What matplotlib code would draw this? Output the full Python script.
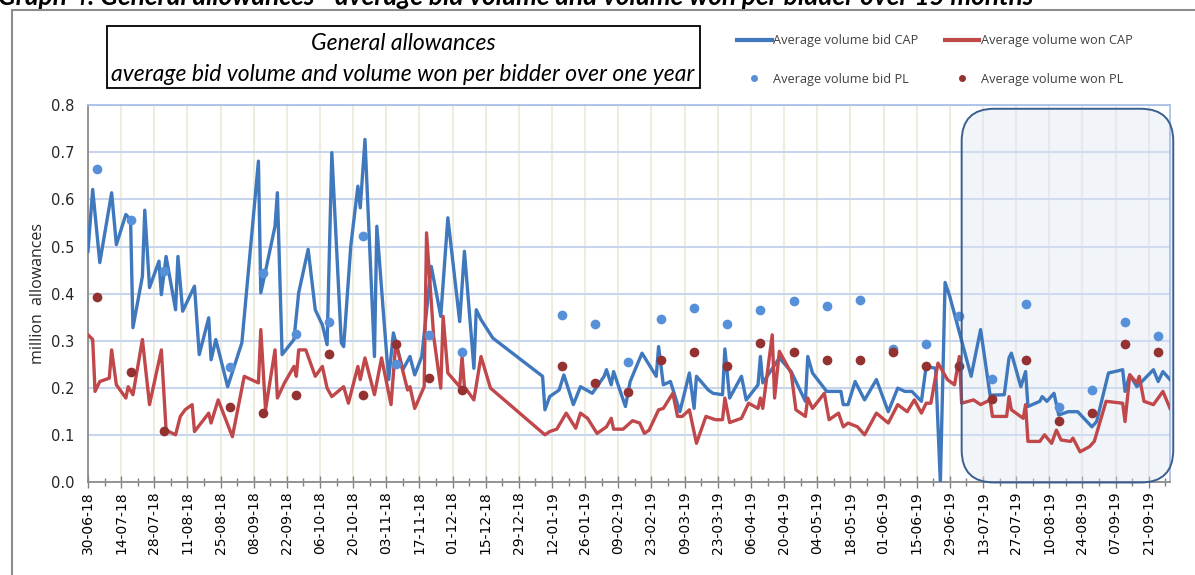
import pandas as pd
import matplotlib
matplotlib.use("Agg")
import matplotlib.pyplot as plt
import matplotlib.dates as mdates
from matplotlib.patches import Rectangle, FancyBboxPatch
from matplotlib.lines import Line2D

# data (day offsets from 30-06-2018)
start = pd.Timestamp("2018-06-30")

bid_cap_days = [0, 2, 5, 10, 12, 16, 18, 19, 23, 24, 26, 30, 31, 33, 37, 38, 40, 45, 47, 51,
                52, 54, 59, 65, 72, 73, 75, 79, 80, 82, 87, 89, 93, 96, 99, 101, 103, 107, 108, 111,
                114, 115, 117, 121, 122, 125, 127, 129, 133, 136, 138, 141, 145, 149, 152, 157, 159, 163, 164, 166,
                171, 192, 193, 195, 199, 201, 205, 208, 213, 218, 219, 221, 222, 227, 229, 234, 240, 241, 243, 246,
                250, 254, 256, 257, 262, 264, 268, 269, 271, 276, 278, 283, 284, 285, 292, 297, 303, 304, 306, 312,
                318, 319, 321, 324, 328, 333, 338, 342, 345, 348, 352, 354, 358, 360, 362, 364, 373, 377, 381, 387,
                389, 390, 394, 396, 397, 402, 403, 405, 408, 410, 414, 418, 424, 426, 431, 437, 438, 440, 443, 450,
                452, 454, 457]
bid_cap = [0.49, 0.621, 0.466, 0.614, 0.504, 0.568, 0.557, 0.328, 0.437, 0.577, 0.413, 0.469, 0.398, 0.479, 0.366, 0.479, 0.363, 0.416, 0.271, 0.349,
           0.260, 0.303, 0.203, 0.296, 0.681, 0.402, 0.448, 0.543, 0.614, 0.271, 0.303, 0.402, 0.494, 0.366, 0.334, 0.292, 0.699, 0.296, 0.288, 0.501,
           0.628, 0.582, 0.727, 0.267, 0.543, 0.345, 0.218, 0.317, 0.239, 0.267, 0.228, 0.267, 0.458, 0.352, 0.561, 0.341, 0.490, 0.242, 0.366, 0.345,
           0.306, 0.225, 0.154, 0.182, 0.196, 0.228, 0.165, 0.203, 0.189, 0.225, 0.239, 0.207, 0.235, 0.161, 0.214, 0.274, 0.225, 0.288, 0.207, 0.214,
           0.150, 0.232, 0.157, 0.225, 0.196, 0.189, 0.186, 0.283, 0.179, 0.225, 0.175, 0.207, 0.267, 0.211, 0.264, 0.235, 0.172, 0.267, 0.232, 0.193,
           0.193, 0.165, 0.165, 0.214, 0.175, 0.218, 0.150, 0.200, 0.193, 0.193, 0.172, 0.246, 0.242, 0.0, 0.424, 0.394, 0.225, 0.324, 0.185, 0.186,
           0.264, 0.274, 0.203, 0.235, 0.161, 0.172, 0.182, 0.172, 0.189, 0.143, 0.150, 0.150, 0.118, 0.129, 0.232, 0.239, 0.193, 0.228, 0.203, 0.239,
           0.214, 0.235, 0.218]

won_cap_days = [0, 2, 3, 5, 9, 10, 12, 16, 17, 19, 23, 26, 31, 33, 37, 39, 41, 44, 45, 51,
                52, 55, 61, 66, 72, 73, 75, 79, 80, 83, 87, 88, 89, 92, 96, 99, 101, 103, 108, 110,
                114, 115, 117, 121, 124, 128, 130, 135, 136, 138, 142, 143, 146, 149, 150, 152, 157, 158, 159, 163,
                166, 170, 193, 195, 198, 202, 206, 208, 211, 215, 219, 221, 222, 226, 230, 233, 235, 237, 241, 243,
                247, 249, 251, 254, 257, 261, 265, 268, 269, 271, 276, 279, 283, 284, 285, 289, 290, 292, 297, 299,
                303, 304, 306, 311, 313, 317, 319, 321, 325, 328, 333, 338, 342, 346, 349, 352, 354, 356, 359, 363,
                366, 368, 369, 374, 377, 381, 382, 388, 389, 390, 395, 396, 397, 402, 404, 407, 409, 411, 415, 416,
                419, 423, 425, 430, 437, 438, 440, 443, 444, 446, 450, 454, 457]
won_cap = [0.313, 0.303, 0.193, 0.214, 0.221, 0.281, 0.207, 0.179, 0.203, 0.186, 0.303, 0.165, 0.281, 0.111, 0.101, 0.140, 0.154, 0.165, 0.108, 0.147,
           0.126, 0.175, 0.097, 0.225, 0.211, 0.324, 0.154, 0.281, 0.179, 0.211, 0.246, 0.225, 0.281, 0.281, 0.225, 0.246, 0.200, 0.182, 0.203, 0.168,
           0.246, 0.218, 0.264, 0.186, 0.264, 0.165, 0.296, 0.196, 0.203, 0.157, 0.203, 0.529, 0.310, 0.200, 0.352, 0.232, 0.203, 0.267, 0.203, 0.175,
           0.267, 0.200, 0.101, 0.108, 0.113, 0.147, 0.115, 0.147, 0.136, 0.104, 0.118, 0.136, 0.113, 0.113, 0.131, 0.126, 0.104, 0.111, 0.154, 0.157,
           0.189, 0.140, 0.140, 0.154, 0.083, 0.140, 0.133, 0.133, 0.179, 0.127, 0.136, 0.168, 0.157, 0.179, 0.157, 0.313, 0.179, 0.278, 0.232, 0.154,
           0.140, 0.179, 0.157, 0.189, 0.133, 0.147, 0.118, 0.126, 0.118, 0.101, 0.147, 0.126, 0.165, 0.150, 0.175, 0.147, 0.168, 0.168, 0.253, 0.218,
           0.207, 0.267, 0.168, 0.175, 0.165, 0.175, 0.140, 0.140, 0.182, 0.154, 0.136, 0.165, 0.087, 0.087, 0.101, 0.083, 0.111, 0.090, 0.087, 0.094,
           0.065, 0.076, 0.087, 0.172, 0.168, 0.129, 0.228, 0.211, 0.225, 0.172, 0.165, 0.193, 0.157]

pl_dates = ["2018-07-04", "2018-07-18", "2018-08-01", "2018-08-29", "2018-09-12", "2018-09-26",
            "2018-10-10", "2018-10-24", "2018-11-07", "2018-11-21", "2018-12-05", "2019-01-16",
            "2019-01-30", "2019-02-13", "2019-02-27", "2019-03-13", "2019-03-27", "2019-04-10",
            "2019-04-24", "2019-05-08", "2019-05-22", "2019-06-05", "2019-06-19", "2019-07-03",
            "2019-07-17", "2019-07-31", "2019-08-14", "2019-08-28", "2019-09-11", "2019-09-25"]
bid_pl = [0.665, 0.557, 0.448, 0.245, 0.443, 0.315, 0.341, 0.523, 0.251, 0.312,
          0.276, 0.356, 0.335, 0.256, 0.346, 0.370, 0.336, 0.366, 0.385, 0.373,
          0.387, 0.283, 0.293, 0.353, 0.219, 0.378, 0.161, 0.195, 0.341, 0.310]
won_pl = [0.393, 0.235, 0.109, 0.161, 0.147, 0.186, 0.273, 0.186, 0.294, 0.222,
          0.196, 0.246, 0.211, 0.192, 0.260, 0.276, 0.246, 0.296, 0.276, 0.260,
          0.260, 0.276, 0.246, 0.246, 0.177, 0.260, 0.131, 0.148, 0.293, 0.276]

bid_cap_x = start + pd.to_timedelta(bid_cap_days, unit="D")
won_cap_x = start + pd.to_timedelta(won_cap_days, unit="D")
pl_x = pd.to_datetime(pl_dates)

blue = "#3F78BD"
red = "#C0474A"
blue_dot = "#5590D9"
red_dot = "#943232"

fig = plt.figure(figsize=(11.95, 5.75), dpi=100)
ax = fig.add_axes([0.0736, 0.1609, 0.9055, 0.6565])

ax.plot(bid_cap_x, bid_cap, color=blue, lw=2.4, zorder=3)
ax.plot(won_cap_x, won_cap, color=red, lw=2.4, zorder=3)
ax.plot(pl_x, bid_pl, "o", color=blue_dot, ms=7, mec="none", zorder=4)
ax.plot(pl_x, won_pl, "o", color=red_dot, ms=7, mec="none", zorder=4)

x0 = pd.Timestamp("2018-06-30")
x1 = pd.Timestamp("2019-09-30")
ax.set_xlim(x0, x1)
ax.set_ylim(0, 0.8)
ax.set_yticks([i / 10 for i in range(9)])
ax.yaxis.set_major_formatter(matplotlib.ticker.FormatStrFormatter("%.1f"))

ax.xaxis.set_major_locator(matplotlib.ticker.FixedLocator(mdates.date2num(pd.date_range(x0, x1, freq="14D"))))
ax.xaxis.set_minor_locator(matplotlib.ticker.FixedLocator(mdates.date2num(pd.date_range(x0, x1, freq="7D"))))
ax.xaxis.set_major_formatter(mdates.DateFormatter("%d-%m-%y"))
ax.tick_params(axis="x", which="major", direction="inout", length=9, width=1, color="#808080",
               labelsize=10, labelrotation=90, pad=2, labelcolor="black")
ax.tick_params(axis="x", which="minor", direction="inout", length=6, width=1, color="#808080")
ax.tick_params(axis="y", length=0, labelsize=10.5, pad=10, labelcolor="#262626")

ax.grid(axis="y", color="#C9D5EC", lw=1.5, zorder=0)
ax.grid(axis="x", which="major", color="#EEECDF", lw=1.5, zorder=0)
ax.set_axisbelow(True)
for side in ["left", "bottom"]:
    ax.spines[side].set_color("#8C8C8C")
    ax.spines[side].set_linewidth(1.3)
for side in ["top", "right"]:
    ax.spines[side].set_color("#A9C0E6")
    ax.spines[side].set_linewidth(1.3)

ax.set_ylabel("million  allowances", fontsize=11.5, family="Open Sans", color="#262626", labelpad=3)

# highlighted last months
hx0 = (mdates.date2num(pd.Timestamp("2019-07-04")) - mdates.date2num(x0)) / (mdates.date2num(x1) - mdates.date2num(x0))
box = FancyBboxPatch((hx0, 0.0), 1.003 - hx0, 0.99, boxstyle="round,pad=0,rounding_size=0.03",
                     mutation_aspect=1082 / 377, transform=ax.transAxes, facecolor="#DCE6F4", alpha=0.4,
                     edgecolor="none", zorder=1, clip_on=False)
ax.add_patch(box)
box2 = FancyBboxPatch((hx0, 0.0), 1.003 - hx0, 0.99, boxstyle="round,pad=0,rounding_size=0.03",
                      mutation_aspect=1082 / 377, transform=ax.transAxes, facecolor="none",
                      edgecolor="#3A5F8F", lw=1.4, zorder=5, clip_on=False)
ax.add_patch(box2)

# title box
fig.patches.append(Rectangle((107 / 1195, 1 - 88 / 575), 593 / 1195, 62 / 575, transform=fig.transFigure,
                             facecolor="white", edgecolor="black", lw=1.3))
fig.text(403 / 1195, 1 - 44 / 575, "General allowances", ha="center", va="center",
         fontsize=16.5, style="italic", family="Lato")
fig.text(403 / 1195, 1 - 74 / 575, "average bid volume and volume won per bidder over one year",
         ha="center", va="center", fontsize=16.5, style="italic", family="Lato")

# outer frame and header (cut at the top edge, as in the source)
fig.patches.append(Rectangle((12 / 1195, -0.1), 1.2, 1.1 - 10 / 575, transform=fig.transFigure,
                             facecolor="none", edgecolor="#8C8C8C", lw=1.5))
fig.text(-0.002, 1 - 5 / 575, "Graph 4: General allowances - average bid volume and volume won per bidder over 15 months",
         ha="left", va="baseline", fontsize=18.8, style="italic", weight="bold", family="Lato")

handles = [Line2D([], [], color=blue, lw=3), Line2D([], [], marker="o", ls="none", color=blue_dot, ms=4),
           Line2D([], [], color=red, lw=3), Line2D([], [], marker="o", ls="none", color=red_dot, ms=4)]
labels = ["Average volume bid CAP", "Average volume bid PL", "Average volume won CAP", "Average volume won PL"]
fig.legend(handles, labels, ncol=2, loc="upper left", bbox_to_anchor=(737 / 1195, 1 - 34 / 575),
           frameon=False, handlelength=2.7, handletextpad=0.1, columnspacing=2.1,
           labelspacing=2.0, borderpad=0, borderaxespad=0, labelcolor="#404040", prop={"family": "Open Sans", "size": 9.2})

fig.savefig("out.png", dpi=100)
